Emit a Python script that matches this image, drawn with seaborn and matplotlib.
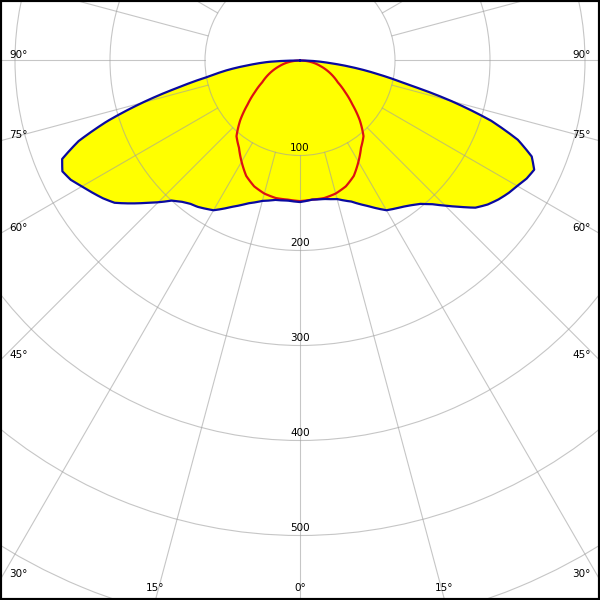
import numpy as np
import pandas as pd
import matplotlib
matplotlib.use("Agg")
import matplotlib.pyplot as plt
import seaborn as sns

# luminous intensity distribution, angle from nadir (deg), intensity (cd)
# blue: C0-C180 plane (negative = C180 side), filled yellow
blue_angles = [-90, -87.5, -85, -82.5, -80, -77.5, -75, -72.5, -70, -67.5, -65, -62.5,
               -60, -57.5, -55, -52.5, -50, -47.5, -45, -42.5, -40, -37.5, -35, -32.5,
               -30, -25, -20, -15, -10, -5, 0,
               5, 10, 15, 20, 25, 30, 32.5, 35, 37.5, 40, 42.5, 45, 47.5, 50,
               52.5, 55, 57.5, 60,
               62.5, 65, 67.5, 70, 72.5, 75, 77.5, 80, 82.5, 85, 87.5, 90]
blue_cd = [0, 33, 53, 77, 98, 131, 172, 213, 248, 271, 276, 272,
           265, 259, 253, 246, 234, 222, 211, 200, 194, 190, 188, 185,
           182, 170, 160, 153, 149, 148, 149,
           147, 148, 151, 158, 169, 182, 185, 188, 192, 197, 205, 216, 228, 241,
           249, 255, 260, 264,
           269, 272, 264, 244, 211, 165, 115, 84, 57, 32, 16, 0]

# red: C90-C270 plane
red_angles = [-90, -85, -80, -75, -70, -65, -60, -55, -50, -45, -40, -35, -30, -25,
              -20, -15, -10, -5, 0, 5, 10, 15, 20, 25, 30, 35, 40, 45, 50, 55,
              60, 65, 70, 75, 80, 85, 90]
red_cd = [0, 7, 15, 22, 30, 38, 46, 58, 72, 89, 104, 112, 123, 134,
          141, 145, 147, 147, 148, 147, 147, 145, 141, 134, 123, 112, 104, 89, 72, 58,
          46, 38, 30, 22, 15, 7, 0]

ring_values = [100, 200, 300, 400, 500, 600, 700]
ring_labels = [100, 200, 300, 400, 500]
spoke_angles = list(range(0, 360, 15))
side_angles = [90, 75, 60, 45, 30]
bottom_angles = [15, 0]

sns.set_style("white")
plt.rcParams["font.family"] = ["DejaVu Sans"]
plt.rcParams["text.color"] = "black"

W = H = 600
cx, cy = 300, 60.5      # pole position, px from top-left
px_per_cd = 0.95
rmax = 700
grid_color = "#a0a0a0"
fs = 7.5

fig = plt.figure(figsize=(6, 6), dpi=100)
R = rmax * px_per_cd
ax = fig.add_axes([(cx - R) / W, (H - cy - R) / H, 2 * R / W, 2 * R / H],
                  projection="polar")
ax.set_theta_zero_location("S")
ax.spines["polar"].set_visible(False)
ax.set_axisbelow(False)

# yellow area of the C0-C180 curve
area = ax.fill(np.deg2rad(blue_angles), blue_cd, color="#ffff00", lw=0, zorder=1)[0]
area.get_path()._interpolation_steps = 16

df_blue = pd.DataFrame({"theta": np.deg2rad(blue_angles), "cd": blue_cd})
df_red = pd.DataFrame({"theta": np.deg2rad(red_angles), "cd": red_cd})
sns.lineplot(data=df_red, x="theta", y="cd", ax=ax, color="#dd1111",
             lw=1.6, sort=False, estimator=None, zorder=4)
sns.lineplot(data=df_blue, x="theta", y="cd", ax=ax, color="#0a0aa0",
             lw=1.6, sort=False, estimator=None, zorder=5)
for ln in ax.lines:
    ln.get_path()._interpolation_steps = 16

# grid: rings and spokes (spokes start at the first ring)
ax.set_xticks([])
ax.set_yticks(ring_values)
ax.set_yticklabels([])
ax.yaxis.grid(True, color=grid_color, lw=0.8, alpha=0.6)
for a in spoke_angles:
    ax.plot([np.deg2rad(a)] * 2, [ring_values[0], rmax], color=grid_color,
            lw=0.8, alpha=0.6, zorder=2.5)
ax.set_ylim(0, rmax)
ax.set_xlabel("")
ax.set_ylabel("")

for v in ring_labels:
    ax.text(0, v - 8, str(v), ha="center", va="center", fontsize=fs, zorder=6)

# angle labels where the spokes leave the frame
for a in side_angles:
    t = np.deg2rad(a)
    y = cy + cx * np.cos(t) / np.sin(t) - 6
    fig.text(9 / W, 1 - y / H, f"{a}°", ha="left", va="center", fontsize=fs)
    fig.text(591 / W, 1 - y / H, f"{a}°", ha="right", va="center", fontsize=fs)
for a in bottom_angles:
    dx = (H - cy) * np.tan(np.deg2rad(a))
    for x in sorted({cx - dx, cx + dx}):
        fig.text(x / W, 1 - 588 / H, f"{a}°", ha="center", va="center", fontsize=fs)

# black frame round the picture
fig.add_artist(plt.Rectangle((0, 0), 1, 1, transform=fig.transFigure, fill=False,
                             ec="black", lw=3, zorder=10))
fig.savefig("out.png", dpi=100)
